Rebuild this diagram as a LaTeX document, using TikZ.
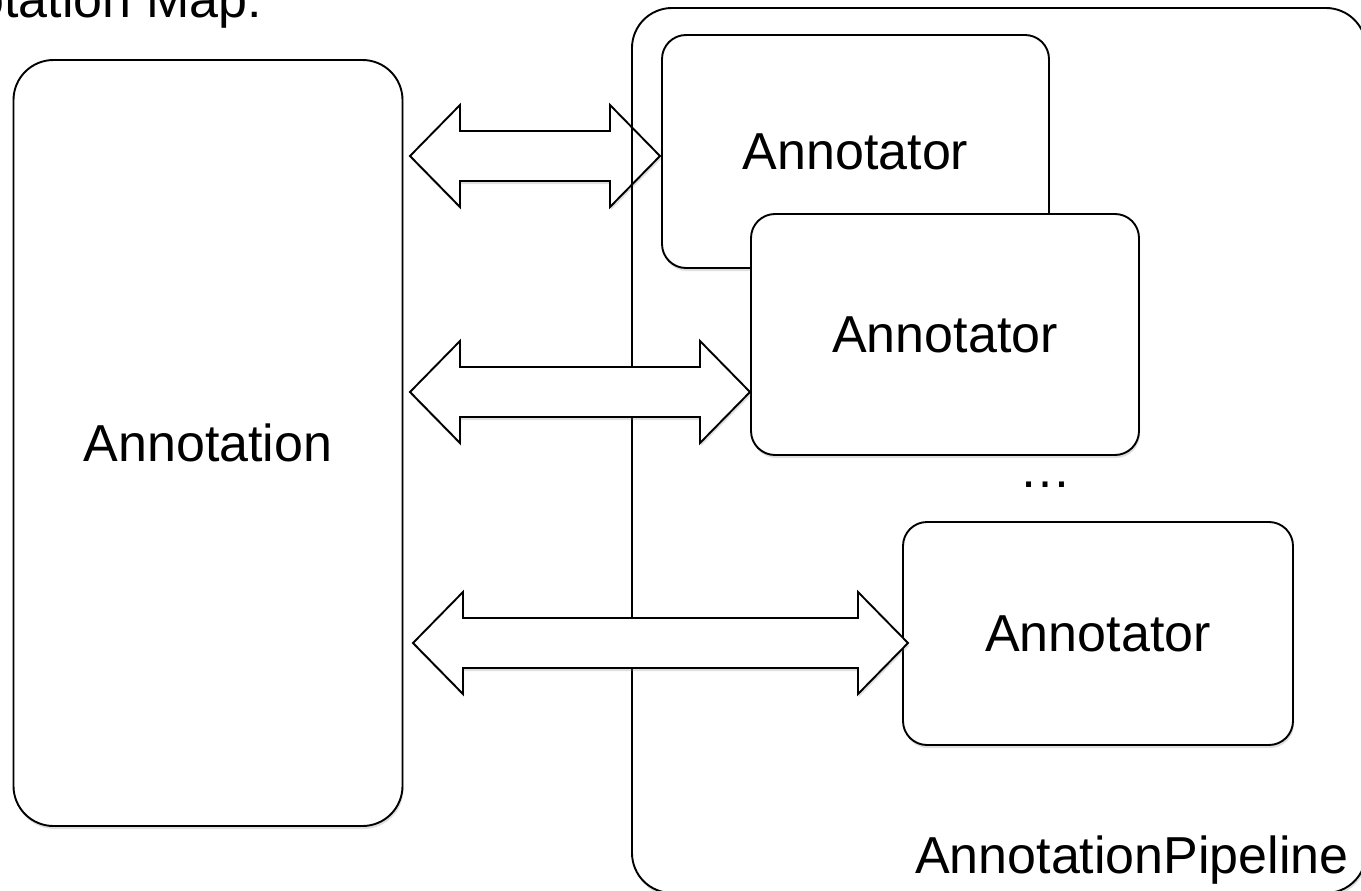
\documentclass[tikz,border=0pt]{standalone}
\usepackage{fontspec}
\setmainfont{Liberation Sans}
\usetikzlibrary{shadows,calc}
\tikzset{
  bigfont/.style={font=\fontsize{52}{60}\selectfont},
  softshadow/.style={drop shadow={opacity=0.25, shadow xshift=1pt, shadow yshift=-3pt}},
  box/.style={draw, line width=1.9pt, fill=white, inner sep=0pt, bigfont, softshadow},
  annbox/.style={box, rounded corners=24pt},
  bigbox/.style={box, rounded corners=40pt},
  lbl/.style={inner sep=0pt, bigfont},
  blockarrow/.style={draw, line width=1.9pt, fill=white, line join=miter, softshadow},
  outline/.style={draw, line width=1.9pt, rounded corners=40pt},
}
\newcommand{\myblockarrow}[2]{%
  \path[blockarrow] (#1) -- ($(#1)+(50,-51)$) -- ($(#1)+(50,-25)$) -- ($(#2)+(-50,-25)$)
    -- ($(#2)+(-50,-51)$) -- (#2) -- ($(#2)+(-50,51)$) -- ($(#2)+(-50,25)$)
    -- ($(#1)+(50,25)$) -- ($(#1)+(50,51)$) -- cycle;}
\begin{document}
\begin{tikzpicture}[x=1pt, y=-1pt]
  \useasboundingbox (0,0) rectangle (1361,891);
  \clip (0,0) rectangle (1361,891);
  \fill[white] (0,0) rectangle (1361,891);

  % title (cropped as in the reference)
  \node[lbl, anchor=base east] (title) at (262,18) {Annotation Map:};

  % pipeline background
  \path[fill=white, rounded corners=40pt, softshadow] (632,8) rectangle (1366,893);

  % annotation box
  \node[bigbox, minimum width=389pt, minimum height=766pt] (ann) at (208,443) {Annotation};

  % arrow 1 (under pipeline outline)
  \coordinate (a1l) at (410,156);
  \coordinate (a1r) at (660,156);
  \myblockarrow{a1l}{a1r}

  % pipeline outline
  \coordinate (pnw) at (632,8);
  \coordinate (pse) at (1366,893);
  \draw[outline] (pnw) rectangle (pse);
  \node[lbl, anchor=base east] (pipe) at (1349,873) {AnnotationPipeline};

  % annotators
  \node[annbox, minimum width=387pt, minimum height=233pt] (an1) at (855.5,151.5) {Annotator};
  \node[annbox, minimum width=388pt, minimum height=241pt] (an2) at (945,334.5) {Annotator};

  \coordinate (a2l) at (410,392);
  \coordinate (a2r) at (750,392);
  \myblockarrow{a2l}{a2r}

  \node[lbl, anchor=base] (dots) at (1045,487) {…};

  \node[annbox, minimum width=390pt, minimum height=223pt] (an3) at (1098,633.5) {Annotator};

  \coordinate (a3l) at (413,643);
  \coordinate (a3r) at (908,643);
  \myblockarrow{a3l}{a3r}
\end{tikzpicture}
\end{document}
